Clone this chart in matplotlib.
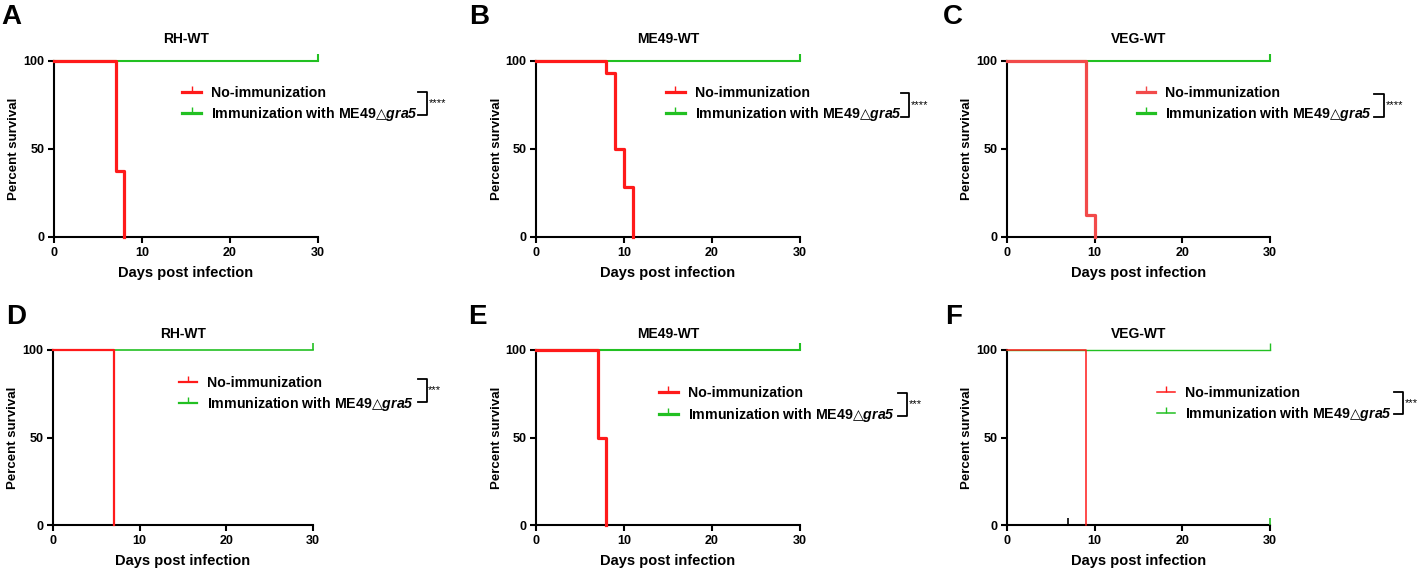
import matplotlib
matplotlib.use("Agg")
import matplotlib.pyplot as plt
from matplotlib.lines import Line2D

plt.rcParams['font.family'] = ['Liberation Sans', 'DejaVu Sans']
plt.rcParams['font.weight'] = 'bold'
plt.rcParams['mathtext.fontset'] = 'custom'
plt.rcParams['mathtext.rm'] = 'Liberation Sans:bold'
plt.rcParams['mathtext.bf'] = 'Liberation Sans:italic:bold'
plt.rcParams['mathtext.sf'] = 'DejaVu Sans'
plt.rcParams['mathtext.fallback'] = 'stixsans'

# survival data (step curves, percent), ending at the last death
days_a = [0, 7, 8]
surv_a = [100, 37.5, 0]
days_b = [0, 8, 9, 10, 11]
surv_b = [100, 92.9, 50, 28.6, 0]
days_c = [0, 9, 10]
surv_c = [100, 12.5, 0]
days_d = [0, 7]
surv_d = [100, 0]
days_e = [0, 7, 8]
surv_e = [100, 50, 0]
days_f = [0, 9]
surv_f = [100, 0]
days_imm = [0, 30]
surv_imm = [100, 100]

letters = ['A', 'B', 'C', 'D', 'E', 'F']
titles = ['RH-WT', 'ME49-WT', 'VEG-WT', 'RH-WT', 'ME49-WT', 'VEG-WT']
stars = ['****', '****', '****', '***', '***', '***']
series = [(days_a, surv_a), (days_b, surv_b), (days_c, surv_c),
          (days_d, surv_d), (days_e, surv_e), (days_f, surv_f)]
label_no = 'No-immunization'
label_imm = 'Immunization with ME49$\\mathsf{\u25b3}\\mathbf{gra5}$'

RED = '#ff1a1a'
GREEN = '#22c022'

W, H = 1424, 568
fig = plt.figure(figsize=(W / 100, H / 100), dpi=100)

# axes boxes in pixels: left, top, right, bottom
boxes = [(54, 61, 318, 237), (536, 61, 800, 237), (1007, 61, 1270, 237),
         (53, 350, 313, 525), (536, 350, 800, 525), (1007, 350, 1270, 525)]
letter_pos = [(1, 4), (469, 4), (943, 4), (6, 304), (468, 304), (945, 304)]
# legend anchor (x, y centre) in data, bracket x0, x1, y0, y1
leg_pos = [(14.6, 75.3), (14.8, 75.3), (14.8, 75.3), (14.5, 74.6), (14.0, 68.5), (17.1, 68.8)]
brackets = [(41.4, 42.4, 69.3, 82.4), (41.5, 42.4, 68.2, 81.8), (41.9, 43.0, 68.2, 81.3),
            (42.1, 43.1, 70.3, 83.4), (41.1, 42.2, 62.3, 75.4), (44.1, 45.2, 63.4, 76.0)]
red_colors = [RED, RED, '#f24a4a', RED, RED, RED]
lw_red = [2.3, 2.3, 2.3, 1.6, 2.3, 1.1]
lw_green = [1.5, 1.5, 1.5, 1.2, 1.5, 1.0]

for i in range(6):
    l, t, r, b = boxes[i]
    ax = fig.add_axes([l / W, 1 - b / H, (r - l) / W, (b - t) / H])
    days, surv = series[i]
    ax.step(days_imm, surv_imm, where='post', color=GREEN, lw=lw_green[i], clip_on=False, zorder=3)
    ax.plot([30], [100], marker=2, ms=5, mew=lw_green[i], color=GREEN, clip_on=False, zorder=3)
    ax.step(days, surv, where='post', color=red_colors[i], lw=lw_red[i], clip_on=False, zorder=4)
    if i == 5:
        ax.plot([30], [0], marker=2, ms=5, mew=1.2, color=GREEN, clip_on=False, zorder=5)
        ax.plot([7], [0], marker=2, ms=5, mew=1.2, color='black', clip_on=False, zorder=5)

    ax.set_xlim(0, 30)
    ax.set_ylim(0, 100)
    ax.set_xticks([0, 10, 20, 30])
    ax.set_yticks([0, 50, 100])
    for s in ['top', 'right']:
        ax.spines[s].set_visible(False)
    for s in ['left', 'bottom']:
        ax.spines[s].set_linewidth(1.5)
    ax.tick_params(direction='out', length=4, width=1.5, labelsize=9, pad=3)
    for lab in ax.get_xticklabels() + ax.get_yticklabels():
        lab.set_fontweight('bold')
    ax.set_xlabel('Days post infection', fontsize=10.5, fontweight='bold', labelpad=5)
    ax.set_ylabel('Percent survival', fontsize=9.5, fontweight='bold', labelpad=2)
    ax.set_title(titles[i], fontsize=10, fontweight='bold', pad=13 if i < 3 else 9)

    handles = [Line2D([], [], color=red_colors[i], lw=lw_red[i], marker=2, ms=4, mew=1),
               Line2D([], [], color=GREEN, lw=lw_red[i], marker=2, ms=4, mew=1)]
    ax.legend(handles, [label_no, label_imm], loc='center left',
              bbox_to_anchor=(leg_pos[i][0], leg_pos[i][1]), bbox_transform=ax.transData,
              frameon=False, borderpad=0, borderaxespad=0, handlelength=1.3,
              handletextpad=0.7, labelspacing=0.4, prop={'size': 10.2, 'weight': 'bold'})

    x0, x1, y0, y1 = brackets[i]
    ax.plot([x0, x1, x1, x0], [y1, y1, y0, y0], color='black', lw=1.3, clip_on=False)
    ax.text(x1 + 0.2, (y0 + y1) / 2, stars[i], fontsize=8, fontweight='normal',
            ha='left', va='center')

    fig.text(letter_pos[i][0] / W, 1 - letter_pos[i][1] / H, letters[i], fontsize=20,
             fontweight='bold', ha='left', va='top')

fig.savefig('out.png', dpi=100)
